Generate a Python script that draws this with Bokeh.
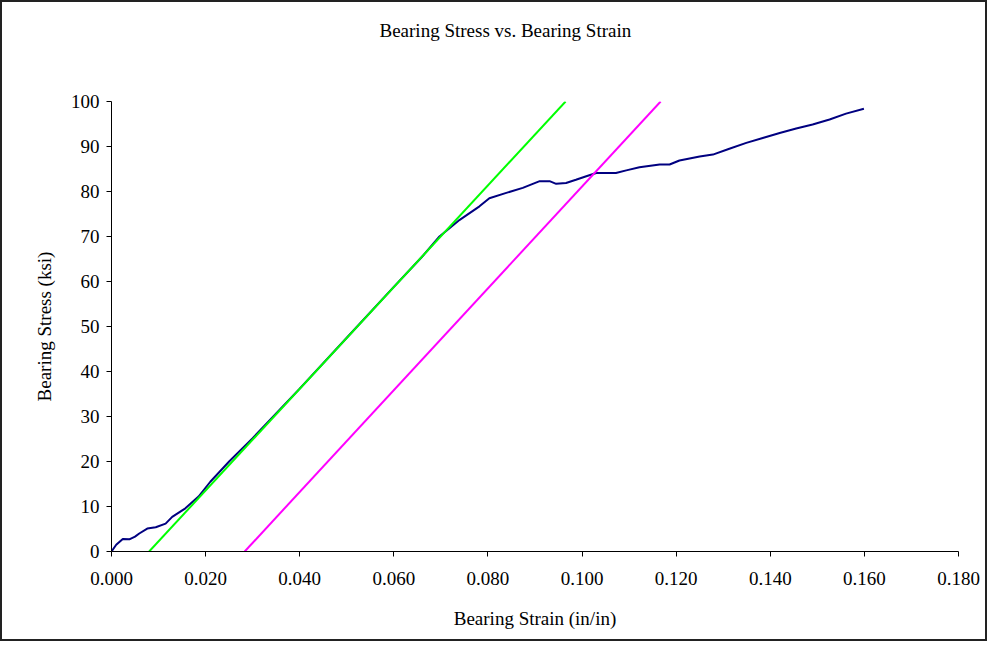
from bokeh.plotting import figure
from bokeh.models import FixedTicker, NumeralTickFormatter, Range1d, Title
from bokeh.embed import file_html
from bokeh.resources import INLINE

# Data
bearing_strain = [0.0, 0.0010, 0.0024, 0.0038, 0.0050, 0.0059, 0.0076, 0.0094,
                  0.0115, 0.0129, 0.0157, 0.0185, 0.0210, 0.0250, 0.0300,
                  0.0400, 0.0500, 0.0600, 0.0660, 0.0697, 0.0740, 0.0782,
                  0.0803, 0.0839, 0.0874, 0.0910, 0.0931, 0.0945, 0.0966,
                  0.0987, 0.1009, 0.1030, 0.1072, 0.1094, 0.1122, 0.1165,
                  0.1186, 0.1207, 0.1250, 0.1278, 0.1313, 0.1349, 0.1384,
                  0.1420, 0.1455, 0.1490, 0.1526, 0.1561, 0.1599]
bearing_stress = [0.0, 1.5, 2.8, 2.7, 3.3, 4.0, 5.1, 5.4,
                  6.2, 7.7, 9.6, 12.2, 15.5, 20.0, 25.2,
                  36.2, 47.5, 58.8, 65.5, 70.0, 73.7, 76.7,
                  78.5, 79.7, 80.8, 82.3, 82.3, 81.7, 81.9,
                  82.6, 83.4, 84.1, 84.1, 84.7, 85.4, 86.0,
                  86.0, 86.9, 87.8, 88.2, 89.5, 90.8, 91.9,
                  93.0, 94.0, 94.9, 96.0, 97.3, 98.4]

elastic_strain = [0.0080, 0.0965]
elastic_stress = [0.0, 100.0]

offset_strain = [0.0283, 0.1167]
offset_stress = [0.0, 100.0]

x_ticks = [0.0, 0.02, 0.04, 0.06, 0.08, 0.10, 0.12, 0.14, 0.16, 0.18]
y_ticks = [0, 10, 20, 30, 40, 50, 60, 70, 80, 90, 100]

FONT = "Liberation Serif"
FS = "19px"

p = figure(width=987, height=641, output_backend="svg", toolbar_location=None,
           x_range=Range1d(0, 0.18), y_range=Range1d(0, 100),
           min_border_left=109, min_border_right=31,
           min_border_top=99, min_border_bottom=92,
           title=None,
           styles={"border": "2px solid #222222"})
p.outline_line_color = None
p.background_fill_color = "white"
p.border_fill_color = "white"
p.grid.visible = False

# spacer between frame and title (nearest the frame)
spacer = Title(text=" ", standoff=33, text_font=FONT, text_font_size=FS)
p.add_layout(spacer, "above")
main_title = Title(text="Bearing Stress vs. Bearing Strain", align="left",
                   offset=268, standoff=10, text_font=FONT, text_font_size=FS,
                   text_font_style="normal", text_color="#000000")
p.add_layout(main_title, "above")

p.line(bearing_strain, bearing_stress, line_color="#000080", line_width=2)
p.line(elastic_strain, elastic_stress, line_color="#00FF00", line_width=2)
p.line(offset_strain, offset_stress, line_color="#FF00FF", line_width=2)

for ax in (p.xaxis[0], p.yaxis[0]):
    ax.major_tick_in = 0
    ax.major_tick_out = 5
    ax.minor_tick_in = 0
    ax.minor_tick_out = 0
    ax.axis_line_color = "#000000"
    ax.major_tick_line_color = "#000000"
    ax.major_label_text_font = FONT
    ax.major_label_text_font_size = FS
    ax.major_label_text_color = "#000000"
    ax.axis_label_text_font = FONT
    ax.axis_label_text_font_size = FS
    ax.axis_label_text_font_style = "normal"
    ax.axis_label_text_color = "#000000"

p.xaxis[0].ticker = FixedTicker(ticks=x_ticks)
p.xaxis[0].formatter = NumeralTickFormatter(format="0.000")
p.xaxis[0].axis_label = "Bearing Strain (in/in)"
p.xaxis[0].major_label_standoff = 15
p.xaxis[0].axis_label_standoff = 20

p.yaxis[0].ticker = FixedTicker(ticks=y_ticks)
p.yaxis[0].axis_label = "Bearing Stress (ksi)"
p.yaxis[0].major_label_standoff = 7
p.yaxis[0].axis_label_standoff = 13

open("out.html", "w").write(file_html(p, INLINE))
